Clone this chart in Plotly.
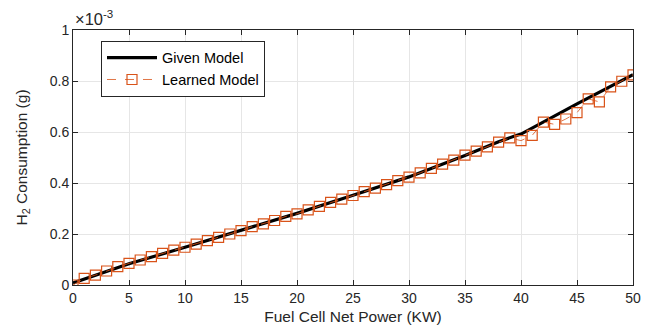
import plotly.graph_objects as go

# Values in units of 1e-3 g
given_x = [0, 5, 10, 15, 20, 25, 30, 35, 38, 39.5, 40, 45, 50]
given_y = [0.008, 0.083, 0.148, 0.214, 0.281, 0.352, 0.424, 0.508, 0.562, 0.585, 0.592, 0.710, 0.825]

learned_x = list(range(0, 51))
learned_y = [0.000, 0.026, 0.039, 0.055, 0.072, 0.085, 0.098, 0.111, 0.124, 0.137,
             0.148, 0.160, 0.174, 0.187, 0.200, 0.213, 0.229, 0.240, 0.253, 0.269,
             0.279, 0.295, 0.308, 0.324, 0.337, 0.351, 0.366, 0.380, 0.394, 0.409,
             0.423, 0.440, 0.457, 0.474, 0.490, 0.509, 0.525, 0.542, 0.560, 0.577,
             0.566, 0.587, 0.639, 0.630, 0.651, 0.676, 0.730, 0.718, 0.777, 0.799,
             0.824]

xticks = [0, 5, 10, 15, 20, 25, 30, 35, 40, 45, 50]
yticks = [0, 0.2, 0.4, 0.6, 0.8, 1]
ytick_text = ["0", "0.2", "0.4", "0.6", "0.8", "1"]

ORANGE = "#D95319"
TXT = "#262626"
FONT = "Arial, Liberation Sans, sans-serif"

fig = go.Figure()
fig.add_trace(go.Scatter(x=given_x, y=given_y, mode="lines", name="Given Model",
                         line=dict(color="black", width=3.2)))
fig.add_trace(go.Scatter(x=learned_x, y=learned_y, mode="lines+markers", name="Learned Model",
                         line=dict(color=ORANGE, width=0.8, dash="dash"),
                         marker=dict(symbol="square-open", size=10, color=ORANGE,
                                     line=dict(width=1.2, color=ORANGE))))

axis_common = dict(showline=True, linecolor=TXT, linewidth=1, mirror="ticks",
                   ticks="inside", ticklen=5, tickcolor=TXT, showgrid=True,
                   gridcolor="#e6e6e6", gridwidth=1, zeroline=False,
                   tickfont=dict(family=FONT, size=14, color=TXT))

fig.update_xaxes(range=[0, 50], tickvals=xticks,
                 title=dict(text="Fuel Cell Net Power (KW)", font=dict(family=FONT, size=15.5, color=TXT),
                            standoff=6),
                 **axis_common)
fig.update_yaxes(range=[0, 1], tickvals=yticks, ticktext=ytick_text,
                 title=dict(text="H<sub>2</sub> Consumption (g)", font=dict(family=FONT, size=15.5, color=TXT),
                            standoff=18),
                 **axis_common)

fig.add_annotation(x=0, y=1, xref="paper", yref="paper", xanchor="left", yanchor="bottom",
                   text="×10<sup>-3</sup>", showarrow=False, yshift=0,
                   font=dict(family=FONT, size=16.5, color=TXT))

fig.update_layout(width=656, height=335, margin=dict(l=73, r=23, t=30, b=50),
                  paper_bgcolor="white", plot_bgcolor="white",
                  font=dict(family=FONT, color=TXT),
                  legend=dict(x=0.05, y=0.958, xanchor="left", yanchor="top",
                              bgcolor="white", bordercolor=TXT, borderwidth=1,
                              font=dict(family=FONT, size=14.5, color="black"),
                              tracegroupgap=0, itemwidth=50),
                  showlegend=True)

fig.write_html("out.html", config={"displayModeBar": False})
